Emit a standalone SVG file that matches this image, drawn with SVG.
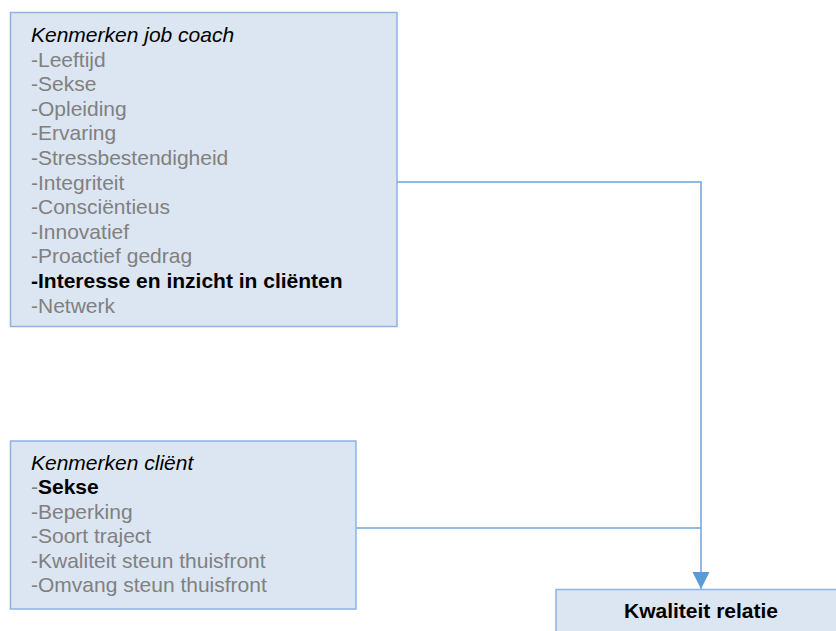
<svg xmlns="http://www.w3.org/2000/svg" width="836" height="631" viewBox="0 0 836 631">
  <style>
    .box { fill: #dce6f2; stroke: #8db3e2; stroke-width: 1.5; }
    .t { font-family: "Liberation Sans", Arial, sans-serif; font-size: 21px; fill: #808080; }
    .h { font-style: italic; fill: #000000; }
    .b { font-weight: bold; fill: #000000; }
    .conn { fill: none; stroke: #6fa5dc; stroke-width: 1.5; }
  </style>
  <defs>
    <marker id="arrow" markerUnits="userSpaceOnUse" markerWidth="18" markerHeight="18" refX="17" refY="8.5" orient="auto">
      <path d="M0,0 L17,8.5 L0,17 Z" fill="#5b9bd5"/>
    </marker>
  </defs>
  <rect width="836" height="631" fill="#ffffff"/>
  <g id="connectors">
    <path class="conn" d="M397,182 H701 V589" marker-end="url(#arrow)"/>
    <path class="conn" d="M356,528 H701"/>
  </g>
  <g id="node-jobcoach">
    <rect class="box" x="10.5" y="12.5" width="386.5" height="314"/>
    <text class="t h" x="31" y="42">Kenmerken job coach</text>
    <text class="t" x="31" y="66.6">-Leeftijd</text>
    <text class="t" x="31" y="91.2">-Sekse</text>
    <text class="t" x="31" y="115.8">-Opleiding</text>
    <text class="t" x="31" y="140.4">-Ervaring</text>
    <text class="t" x="31" y="165">-Stressbestendigheid</text>
    <text class="t" x="31" y="189.6">-Integriteit</text>
    <text class="t" x="31" y="214.2">-Consciëntieus</text>
    <text class="t" x="31" y="238.8">-Innovatief</text>
    <text class="t" x="31" y="263.4">-Proactief gedrag</text>
    <text class="t b" x="31" y="288">-Interesse en inzicht in cliënten</text>
    <text class="t" x="31" y="312.6">-Netwerk</text>
  </g>
  <g id="node-client">
    <rect class="box" x="10.5" y="441" width="345.5" height="168"/>
    <text class="t h" x="31" y="470">Kenmerken cliënt</text>
    <text class="t" x="31" y="494.4">-<tspan class="b">Sekse</tspan></text>
    <text class="t" x="31" y="518.8">-Beperking</text>
    <text class="t" x="31" y="543.2">-Soort traject</text>
    <text class="t" x="31" y="567.6">-Kwaliteit steun thuisfront</text>
    <text class="t" x="31" y="592">-Omvang steun thuisfront</text>
  </g>
  <g id="node-relatie">
    <rect class="box" x="556" y="589.5" width="300" height="60"/>
    <text class="t b" x="701" y="618" text-anchor="middle">Kwaliteit relatie</text>
  </g>
</svg>
